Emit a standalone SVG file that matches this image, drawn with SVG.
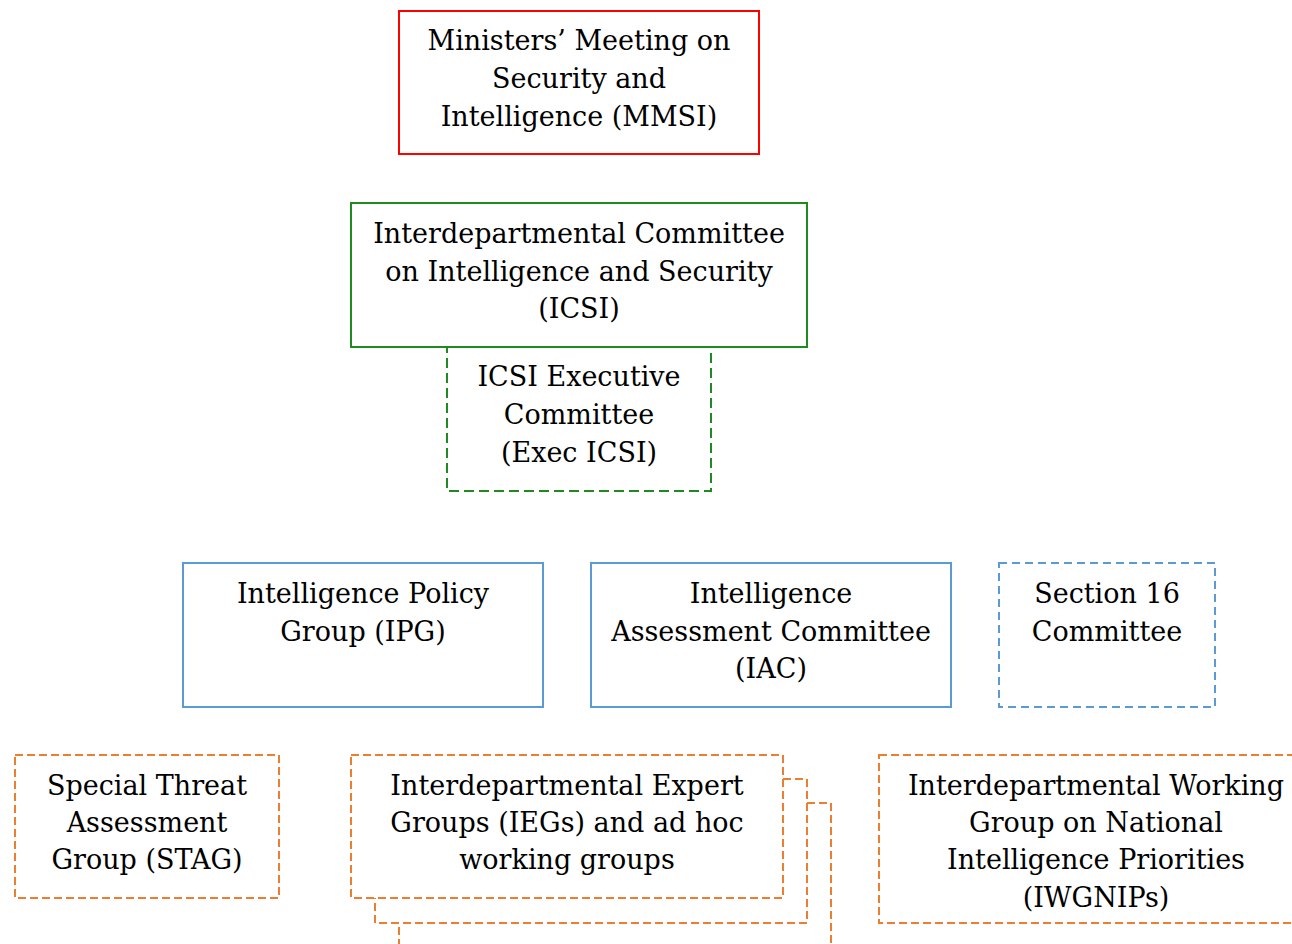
<svg xmlns="http://www.w3.org/2000/svg" width="1292" height="944" viewBox="0 0 1292 944">
<style>
  text { font-family: "DejaVu Serif", "Liberation Serif", serif; font-size: 27px; fill: #000; text-anchor: middle; }
  rect { fill: #fff; stroke-width: 2; }
  .red { stroke: #FF0000; }
  .green { stroke: #1F8A1F; }
  .greendash { stroke: #1F8A1F; stroke-dasharray: 10 5; }
  .bluebox { stroke: #5B9BD5; }
  .bluedash { stroke: #5B9BD5; stroke-dasharray: 8 5; }
  .orange { stroke: #ED7D31; stroke-dasharray: 8 4; }
</style>
<rect x="0" y="0" width="1292" height="944" style="fill:#fff;stroke:none"/>
<g id="connectors"></g>
<g id="mmsi">
  <rect class="red" x="399" y="11" width="360" height="143"/>
  <text x="579" y="50">Ministers’ Meeting on</text>
  <text x="579" y="88">Security and</text>
  <text x="579" y="126">Intelligence (MMSI)</text>
</g>
<g id="exec-icsi">
  <rect class="greendash" x="447" y="347" width="264" height="144"/>
  <text x="579" y="386">ICSI Executive</text>
  <text x="579" y="424">Committee</text>
  <text x="579" y="462">(Exec ICSI)</text>
</g>
<g id="icsi">
  <rect class="green" x="351" y="203" width="456" height="144"/>
  <text x="579" y="243">Interdepartmental Committee</text>
  <text x="579" y="281">on Intelligence and Security</text>
  <text x="579" y="318">(ICSI)</text>
</g>
<g id="ipg">
  <rect class="bluebox" x="183" y="563" width="360" height="144"/>
  <text x="363" y="603">Intelligence Policy</text>
  <text x="363" y="641">Group (IPG)</text>
</g>
<g id="iac">
  <rect class="bluebox" x="591" y="563" width="360" height="144"/>
  <text x="771" y="603">Intelligence</text>
  <text x="771" y="641">Assessment Committee</text>
  <text x="771" y="678">(IAC)</text>
</g>
<g id="section16">
  <rect class="bluedash" x="999" y="563" width="216" height="144"/>
  <text x="1107" y="603">Section 16</text>
  <text x="1107" y="641">Committee</text>
</g>
<g id="stag">
  <rect class="orange" x="15" y="755" width="264" height="143"/>
  <text x="147" y="795">Special Threat</text>
  <text x="147" y="832">Assessment</text>
  <text x="147" y="869">Group (STAG)</text>
</g>
<g id="iegs">
  <rect class="orange" x="399" y="803" width="432" height="144"/>
  <rect class="orange" x="375" y="779" width="432" height="144"/>
  <rect class="orange" x="351" y="755" width="432" height="143"/>
  <text x="567" y="795">Interdepartmental Expert</text>
  <text x="567" y="832">Groups (IEGs) and ad hoc</text>
  <text x="567" y="869">working groups</text>
</g>
<g id="iwgnips">
  <rect class="orange" x="879" y="755" width="434" height="168"/>
  <text x="1096" y="795">Interdepartmental Working</text>
  <text x="1096" y="832">Group on National</text>
  <text x="1096" y="869">Intelligence Priorities</text>
  <text x="1096" y="907">(IWGNIPs)</text>
</g>
</svg>
